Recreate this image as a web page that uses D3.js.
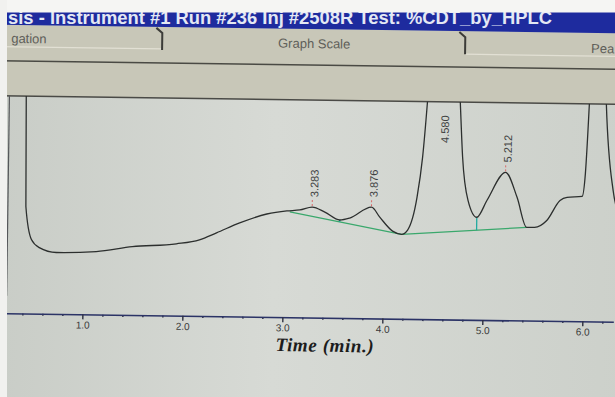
<!DOCTYPE html>
<html>
<head>
<meta charset="utf-8">
<script src="https://cdn.jsdelivr.net/npm/d3@7"></script>
<style>
    html, body { margin: 0; padding: 0; background: #f3f3f1; }
    svg { display: block; }
</style>
</head>
<body>
<div id="chart"></div>
<script>
// chromatogram trace: time (min) and detector signal (arbitrary units)
const traceTime = [0.40, 0.42, 0.48, 0.56, 0.73, 1.13, 1.49, 1.93, 2.16, 2.33, 2.56, 2.83, 3.03, 3.16,
    3.283, 3.41, 3.56, 3.66, 3.876, 3.96, 4.09, 4.18, 4.24, 4.33, 4.38, 4.42, 4.58, 4.75, 4.78, 4.84,
    4.93, 5.03, 5.212, 5.33, 5.43, 5.51, 5.63, 5.76, 5.83, 5.98, 6.01, 6.04, 6.13, 6.21, 6.29, 6.36];
const traceSignal = [150, 31, 10.4, 5.4, 2.5, 3.4, 6.8, 9.0, 11.7, 16.2, 22.6, 28.4, 30.5, 31.2,
    33.1, 30.1, 25.3, 26.6, 33.6, 27.4, 18.8, 16.9, 19.6, 40.2, 65.3, 99, 320, 99, 65.6, 38.7,
    28.2, 38.9, 56.5, 41, 22.3, 22.4, 26.8, 39.4, 41.4, 42.1, 56.6, 100, 300, 100, 46, 30];

// integration baseline and drop lines
const baseTime = [3.06, 4.18, 5.43];
const baseSignal = [29.9, 16.9, 22.3];
const dropTime = [3.56, 4.93];
const dropSignal = [25.3, 28.2];

// labelled peaks
const peakTime = [3.283, 3.876, 4.580, 5.212];
const peakHeight = [33.1, 33.6, 320, 56.5];
const peakLabel = ["3.283", "3.876", "4.580", "5.212"];

// x axis
const majorTicks = [1, 2, 3, 4, 5, 6];
const tickLabels = ["1.0", "2.0", "3.0", "4.0", "5.0", "6.0"];

// only the visible parts of the window texts
const titleText = "sis - Instrument #1 Run #236 Inj #2508R Test: %CDT_by_HPLC";
const tabNames = ["gation", "Graph Scale", "Pea"];

const W = 615, H = 397;
const plotTop = 100, axisY = 317.5;

const x = d3.scaleLinear().domain([0.24, 6.31]).range([8, 615]);
const y = d3.scaleLinear().domain([0, 100]).range([260, plotTop]);

const svg = d3.select("#chart").append("svg")
    .attr("width", W)
    .attr("height", H);

const defs = svg.append("defs");
defs.append("clipPath").attr("id", "plotClip")
    .append("rect")
    .attr("x", 8).attr("y", plotTop)
    .attr("width", 607).attr("height", axisY - plotTop);

let grad = defs.append("linearGradient").attr("id", "bgGrad");
grad.append("stop").attr("offset", "0%").attr("stop-color", "#c8ccc6");
grad.append("stop").attr("offset", "45%").attr("stop-color", "#d7dad5");
grad.append("stop").attr("offset", "100%").attr("stop-color", "#ccd0ca");

// the photo is slightly tilted
const g = svg.append("g").attr("transform", "rotate(0.8, 307, 200)");

g.append("rect")
    .attr("x", -20).attr("y", -20)
    .attr("width", W + 40).attr("height", H + 40)
    .attr("fill", "url(#bgGrad)");

// header: title bar and tab row
g.append("rect")
    .attr("x", -20).attr("y", 29)
    .attr("width", W + 40).attr("height", plotTop - 29)
    .attr("fill", "#c8c7b8");
g.append("rect")
    .attr("x", -20).attr("y", -30)
    .attr("width", W + 40).attr("height", 59)
    .attr("fill", "#1e2b9e");

g.append("line").attr("x1", -20).attr("x2", 160).attr("y1", 51).attr("y2", 51)
    .attr("stroke", "#e2e0d4").attr("stroke-width", 1.2);
g.append("line").attr("x1", 463).attr("x2", W + 20).attr("y1", 52).attr("y2", 52)
    .attr("stroke", "#e2e0d4").attr("stroke-width", 1.2);

[160, 463].forEach(function (sx) {
    g.append("path")
        .attr("d", "M" + (sx - 6) + ",30L" + sx + ",35L" + sx + ",52")
        .attr("fill", "none")
        .attr("stroke", "#3c3c38")
        .attr("stroke-width", 2);
});

let tabFont = "13px 'Liberation Sans', sans-serif";
g.append("text").attr("x", 9).attr("y", 47)
    .style("font", tabFont).attr("fill", "#5e5e58")
    .text(tabNames[0]);
g.append("text").attr("x", 312).attr("y", 48)
    .attr("text-anchor", "middle")
    .style("font", tabFont).attr("fill", "#5e5e58")
    .text(tabNames[1]);
g.append("text").attr("x", 589).attr("y", 49)
    .style("font", tabFont).attr("fill", "#5e5e58")
    .text(tabNames[2]);

g.append("line").attr("x1", -20).attr("x2", W + 20).attr("y1", 65).attr("y2", 65)
    .attr("stroke", "#4a4a44").attr("stroke-width", 1.5);
g.append("line").attr("x1", -20).attr("x2", W + 20).attr("y1", plotTop).attr("y2", plotTop)
    .attr("stroke", "#4a4a46").attr("stroke-width", 1.5);
g.append("line").attr("x1", 8).attr("x2", 8).attr("y1", plotTop).attr("y2", 300)
    .attr("stroke", "#55575a").attr("stroke-width", 1.2);

// x axis
let minorTicks = d3.range(0.4, 6.3, 0.2).filter(function (t) {
    return Math.abs(t - Math.round(t)) > 0.01;
});

let minorAxis = g.append("g")
    .attr("transform", "translate(0," + axisY + ")")
    .call(d3.axisBottom(x).tickValues(minorTicks).tickSize(2).tickSizeOuter(0).tickFormat(""));
minorAxis.select(".domain").remove();

let majorAxis = g.append("g")
    .attr("transform", "translate(0," + axisY + ")")
    .call(d3.axisBottom(x)
        .tickValues(majorTicks)
        .tickSize(5)
        .tickSizeOuter(0)
        .tickPadding(2)
        .tickFormat(function (d, i) { return tickLabels[i]; }));

majorAxis.select(".domain").attr("stroke", "#2b3366").attr("stroke-width", 1.6);
g.selectAll(".tick line").attr("stroke", "#2e3040").attr("stroke-width", 1.4);
majorAxis.selectAll(".tick text")
    .attr("fill", "#3a3a3a")
    .style("font", "10px 'Liberation Sans', sans-serif");

g.append("text")
    .attr("x", 327).attr("y", axisY + 34)
    .attr("text-anchor", "middle")
    .style("font", "italic bold 19px 'Liberation Serif', serif")
    .style("letter-spacing", "0.6px")
    .attr("fill", "#1c1c1c")
    .text("Time (min.)");

// plot content
let plot = g.append("g").attr("clip-path", "url(#plotClip)");

let line = d3.line()
    .x(function (d) { return x(d[0]); })
    .y(function (d) { return y(d[1]); });

plot.append("path")
    .datum(d3.zip(baseTime, baseSignal))
    .attr("fill", "none")
    .attr("stroke", "#3aa86c")
    .attr("stroke-width", 1.3)
    .attr("d", line);

let baseAt = d3.scaleLinear().domain(baseTime).range(baseSignal);
plot.selectAll(".drop")
    .data(d3.zip(dropTime, dropSignal))
    .enter().append("line")
    .attr("class", "drop")
    .attr("x1", function (d) { return x(d[0]); })
    .attr("x2", function (d) { return x(d[0]); })
    .attr("y1", function (d) { return y(d[1]); })
    .attr("y2", function (d) { return y(baseAt(d[0])); })
    .attr("stroke", "#22aaa0")
    .attr("stroke-width", 1.3);

plot.append("path")
    .datum(d3.zip(traceTime, traceSignal))
    .attr("fill", "none")
    .attr("stroke", "#2c2f2e")
    .attr("stroke-width", 1.3)
    .attr("d", line.curve(d3.curveMonotoneX));

// peak retention time labels
peakTime.forEach(function (t, i) {
    let px = x(t);
    let apexY = y(peakHeight[i]);
    let labelBottom = Math.max(apexY - 10, plotTop + 41);
    if (apexY > plotTop) {
        plot.append("line")
            .attr("x1", px).attr("x2", px)
            .attr("y1", apexY - 1).attr("y2", labelBottom + 1)
            .attr("stroke", "#d86a6a")
            .attr("stroke-dasharray", "2,2");
    }
    plot.append("text")
        .attr("transform", "translate(" + (px + 2) + "," + labelBottom + ") rotate(-90)")
        .attr("dy", "0.35em")
        .style("font", "11px 'Liberation Sans', sans-serif")
        .attr("fill", "#404242")
        .text(peakLabel[i]);
});

// window title (not tilted in the photo) and the edges outside the screen
svg.append("text")
    .attr("x", 8).attr("y", 24)
    .attr("textLength", 544)
    .attr("lengthAdjust", "spacingAndGlyphs")
    .style("font", "bold 18px 'Liberation Sans', sans-serif")
    .attr("fill", "#e4e8f4")
    .text(titleText);

svg.append("rect").attr("x", 0).attr("y", 0).attr("width", W).attr("height", 12.5).attr("fill", "#f5f5f3");
svg.append("rect").attr("x", 0).attr("y", 0).attr("width", 7).attr("height", H).attr("fill", "#f1f1ef");
</script>
</body>
</html>
